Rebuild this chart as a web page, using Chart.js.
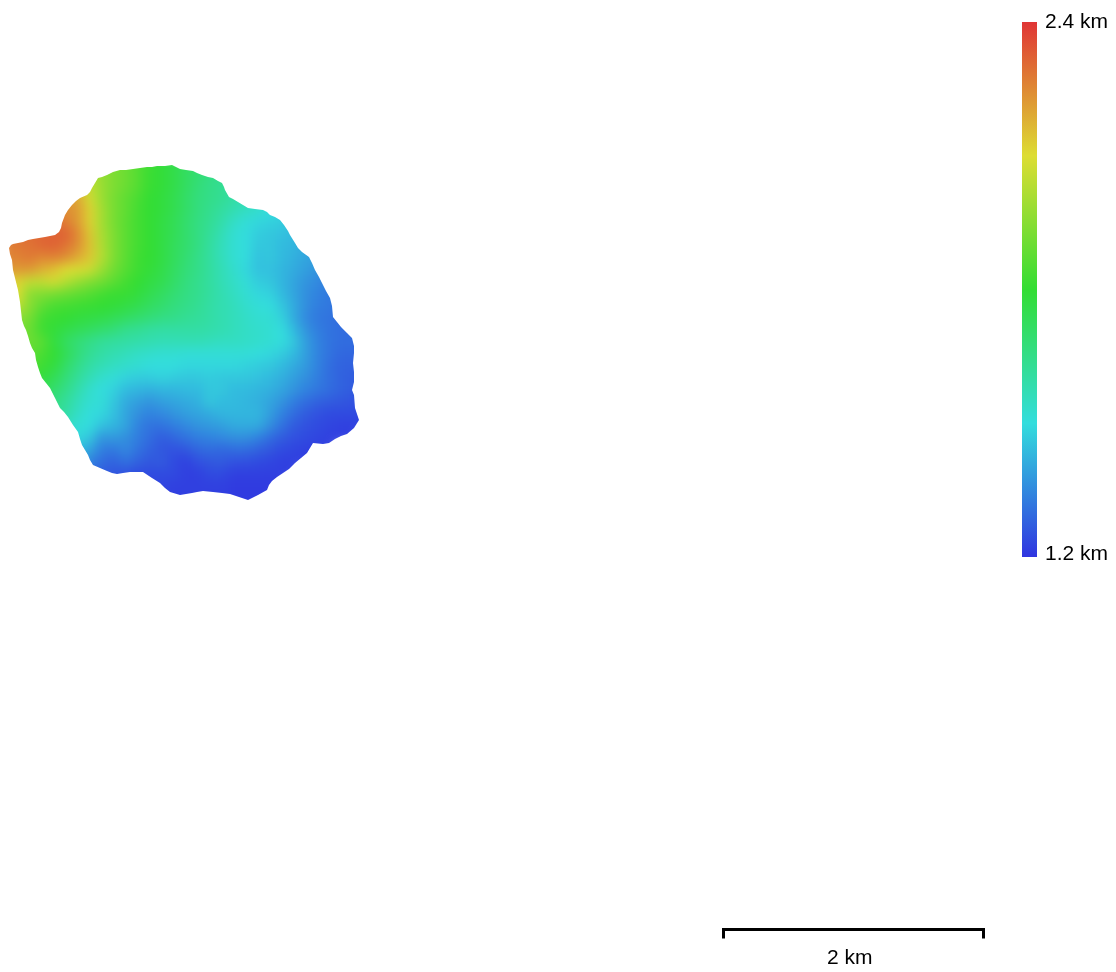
<!DOCTYPE html>
<html>
<head>
<meta charset="utf-8">
<style>
  html, body { margin: 0; padding: 0; background: #fff; }
  body { position: relative; width: 1116px; height: 972px; overflow: hidden; }
  canvas { position: absolute; display: block; }
  #terrain { left: 0; top: 0; }
  #colorbar { left: 1016px; top: 0; }
  #scalebar { left: 713px; top: 920px; }
</style>
<script src="https://cdn.jsdelivr.net/npm/chart.js@4"></script>
</head>
<body>
<canvas id="terrain" width="1116" height="972"></canvas>
<canvas id="colorbar" width="100" height="580"></canvas>
<canvas id="scalebar" width="280" height="50"></canvas>
<script>
const _ = null;

// elevation, in units of 10 m, one list per grid row (12 map units apart)
const gridEast = [6,18,30,42,54,66,78,90,102,114,126,138,150,162,174,186,198,210,222,234,246,258,270,282,294,306,318,330,342,354,366];
const gridSouth = [162,174,186,198,210,222,234,246,258,270,282,294,306,318,330,342,354,366,378,390,402,414,426,438,450,462,474,486,498,510];
const row162 = [_,_,_,_,_,_,205,200,196,193,190,186,182,179,176,172,169,166,164,162,_,_,_,_,_,_,_,_,_,_,_];
const row174 = [_,_,_,_,_,216,210,204,197,193,190,186,181,179,176,172,169,166,164,162,160,158,_,_,_,_,_,_,_,_,_];
const row186 = [_,_,_,_,222,220,214,205,198,193,190,186,181,179,176,172,168,165,163,161,159,157,155,_,_,_,_,_,_,_,_];
const row198 = [_,_,_,226,224,222,220,208,198,192,188,184,180,178,175,171,167,165,163,160,158,155,153,150,_,_,_,_,_,_,_];
const row210 = [_,232,232,230,226,224,222,212,200,192,188,183,180,178,175,171,167,164,161,158,155,153,150,148,146,_,_,_,_,_,_];
const row222 = [232,232,232,232,230,227,222,212,200,192,187,183,180,177,174,170,166,163,159,154,151,149,148,147,146,145,_,_,_,_,_];
const row234 = [229,229,230,231,232,232,225,214,201,193,187,183,180,177,174,170,166,162,157,152,150,147,146,145,144,142,140,_,_,_,_];
const row246 = [226,228,229,231,232,229,224,215,202,193,187,183,180,177,173,170,166,161,156,152,150,146,146,144,143,141,139,137,_,_,_];
const row258 = [226,226,228,225,226,224,219,214,203,193,187,182,180,177,173,169,165,161,156,152,150,145,146,144,142,140,139,137,_,_,_];
const row270 = [222,222,222,218,215,210,209,207,198,191,186,182,179,176,172,168,165,161,157,153,149,145,145,143,141,139,137,135,133,_,_];
const row282 = [212,212,205,205,208,203,198,194,191,187,183,180,177,175,171,167,164,161,157,154,151,147,146,143,140,137,135,133,132,130,_];
const row294 = [210,210,195,194,192,190,188,186,183,181,181,178,175,172,169,166,164,161,158,155,152,149,148,144,140,136,134,132,131,130,_];
const row306 = [205,205,195,188,184,183,182,181,180,179,177,175,172,170,167,165,163,160,158,156,153,151,150,146,141,136,133,132,131,130,130];
const row318 = [_,195,192,183,181,180,178,177,176,174,172,170,168,166,165,163,162,160,158,156,154,152,152,148,141,135,132,131,130,130,130];
const row330 = [_,192,190,182,179,176,174,172,170,168,164,163,161,160,160,160,160,159,158,156,154,153,152,150,144,137,133,131,130,130,130];
const row342 = [_,192,190,187,178,172,168,165,162,161,160,159,158,157,157,157,157,156,155,155,154,153,152,150,146,139,134,131,130,130,129];
const row354 = [_,190,188,184,180,174,168,163,160,158,156,154,153,152,152,151,151,151,151,151,151,150,149,147,144,139,134,131,129,129,128];
const row366 = [_,_,186,182,178,171,165,160,157,155,153,152,150,150,150,149,149,149,149,149,148,147,146,144,141,138,134,130,128,128,127];
const row378 = [_,_,182,178,174,168,162,157,153,151,148,147,147,148,147,146,146,147,146,146,146,145,144,142,139,136,133,130,128,127,127];
const row390 = [_,_,_,174,170,165,159,153,150,148,144,143,142,143,143,144,144,146,146,144,144,143,142,140,137,134,132,130,128,127,126];
const row402 = [_,_,_,170,166,162,156,152,151,146,141,139,137,139,140,141,142,146,144,144,143,142,140,137,133,130,128,127,126,125,125];
const row414 = [_,_,_,_,164,160,154,150,149,145,140,136,134,135,137,139,140,141,143,143,143,143,139,134,130,127,125,124,124,124,124];
const row426 = [_,_,_,_,158,155,151,150,145,143,140,134,131,131,133,135,137,138,139,141,141,141,136,131,127,125,124,123,122,122,122];
const row438 = [_,_,_,_,_,152,149,146,137,138,136,133,130,127,129,131,133,134,135,136,136,134,130,127,125,124,123,122,122,122,_];
const row450 = [_,_,_,_,_,148,144,140,133,132,135,131,128,126,125,126,129,130,129,130,130,128,126,124,123,122,122,122,_,_,_];
const row462 = [_,_,_,_,_,_,140,134,130,128,131,128,126,127,124,122,125,126,127,125,125,124,123,122,122,122,122,_,_,_,_];
const row474 = [_,_,_,_,_,_,_,130,127,126,125,124,124,124,124,122,122,124,124,122,122,122,122,122,122,_,_,_,_,_,_];
const row486 = [_,_,_,_,_,_,_,_,125,124,124,123,123,123,122,122,122,122,122,121,121,121,121,121,_,_,_,_,_,_,_];
const row498 = [_,_,_,_,_,_,_,_,_,_,123,123,123,122,122,122,122,122,122,121,121,121,121,_,_,_,_,_,_,_,_];
const row510 = [_,_,_,_,_,_,_,_,_,_,_,_,123,122,122,122,122,122,122,121,121,121,_,_,_,_,_,_,_,_,_];
const elevationRows = [row162,row174,row186,row198,row210,row222,row234,row246,row258,row270,row282,row294,row306,row318,row330,row342,row354,row366,row378,row390,row402,row414,row426,row438,row450,row462,row474,row486,row498,row510];

// survey boundary, clockwise from the west tip
const boundaryEast = [9,11,13,18,23,28,33,39,45,50,55,59,61,62,65,68,72,76,80,87,90,92,95,98,102,107,113,120,126,133,140,147,152,157,165,172,176,180,186,193,197,202,208,213,218,222,224,225,229,233,238,243,248,255,263,267,270,275,280,284,288,290,295,298,302,309,312,315,319,322,326,330,332,333,337,341,347,352,354,354,353,354,354,352,354,355,359,354,347,341,335,329,323,313,310,307,301,295,289,283,277,272,269,267,258,248,242,236,230,222,213,203,197,192,186,180,170,165,160,152,143,136,130,123,117,112,107,100,93,90,88,85,82,80,78,73,68,64,60,55,50,46,42,40,38,36,35,32,30,28,26,24,22,21,20,18,15,13,12,10];
const boundarySouth = [248,245,244,243,242,240,239,238,237,236,235,232,228,223,215,210,205,201,198,195,192,188,183,178,177,175,172,170,170,169,168,167,167,166,166,165,167,169,170,171,173,175,177,178,181,183,187,190,197,199,202,205,208,209,210,212,215,217,220,225,231,235,243,248,252,257,263,270,277,283,291,298,306,317,322,327,333,338,346,353,363,372,382,390,395,408,420,428,434,436,439,443,444,443,448,453,458,463,469,473,477,481,485,490,495,500,498,496,494,493,492,491,492,493,494,495,492,488,483,478,472,472,472,473,474,473,471,468,465,460,455,450,445,439,432,425,417,412,408,398,388,383,378,373,367,360,353,348,343,336,330,326,320,311,302,290,278,270,260,254];

// color ramp of the map, low to high
const rampStops = [0, 0.25, 0.5, 0.75, 1];
const rampColors = ['#3035e0', '#33dddd', '#33dd33', '#dddd33', '#e03535'];

const colorbarRange = [1.2, 2.4];
const colorbarTicks = [1.206, 2.4];
const scaleRange = [0, 2];
const scaleTicks = [0, 0.973, 2];
const scaleLabel = '2 km';

const labelFont = { family: '"Liberation Sans", Arial, sans-serif', size: 21 };

function rampColor(elevation) {
  const t = (elevation / 100 - colorbarRange[0]) / (colorbarRange[1] - colorbarRange[0]);
  const c = Math.max(0, Math.min(1, t));
  let i = 0;
  while (i < rampStops.length - 2 && c > rampStops[i + 1]) i++;
  const f = (c - rampStops[i]) / (rampStops[i + 1] - rampStops[i]);
  const a = parseInt(rampColors[i].slice(1), 16), b = parseInt(rampColors[i + 1].slice(1), 16);
  const mix = (s) => Math.round(((a >> s) & 255) * (1 - f) + ((b >> s) & 255) * f);
  return 'rgb(' + mix(16) + ',' + mix(8) + ',' + mix(0) + ')';
}

const cells = [];
elevationRows.forEach((row, j) => {
  row.forEach((v, i) => {
    if (v !== null) cells.push({ x: gridEast[i], y: gridSouth[j], v: v });
  });
});
const boundary = boundaryEast.map((x, i) => ({ x: x, y: boundarySouth[i] }));

// soften the grid cells and cut them to the boundary
const terrainSmooth = {
  id: 'terrainSmooth',
  afterDatasetsDraw(chart) {
    const ctx = chart.ctx;
    const canvas = chart.canvas;
    const copy = document.createElement('canvas');
    copy.width = canvas.width;
    copy.height = canvas.height;
    copy.getContext('2d').drawImage(canvas, 0, 0);
    const pts = chart.getDatasetMeta(1).data;
    ctx.clearRect(0, 0, canvas.width, canvas.height);
    ctx.save();
    ctx.beginPath();
    pts.forEach((p, i) => (i ? ctx.lineTo(p.x, p.y) : ctx.moveTo(p.x, p.y)));
    ctx.closePath();
    ctx.clip();
    ctx.filter = 'blur(6px)';
    ctx.drawImage(copy, 0, 0);
    ctx.restore();
  },
};

new Chart(document.getElementById('terrain'), {
  type: 'scatter',
  data: {
    datasets: [
      {
        label: 'elevation',
        data: cells,
        pointStyle: 'rect',
        pointRadius: 9,
        pointBorderWidth: 0,
        pointBackgroundColor: (ctx) => rampColor(ctx.raw.v),
      },
      {
        label: 'boundary',
        data: boundary,
        pointRadius: 0,
        showLine: false,
      },
    ],
  },
  options: {
    responsive: false,
    animation: false,
    devicePixelRatio: 1,
    layout: { padding: 0, autoPadding: false },
    plugins: { legend: { display: false }, tooltip: { enabled: false } },
    scales: {
      x: { type: 'linear', display: false, min: 0, max: 1116 },
      y: { type: 'linear', display: false, min: 0, max: 972, reverse: true },
    },
  },
  plugins: [terrainSmooth],
});

new Chart(document.getElementById('colorbar'), {
  type: 'bar',
  data: {
    labels: ['elevation'],
    datasets: [
      {
        data: [colorbarRange],
        barPercentage: 1,
        categoryPercentage: 1,
        borderWidth: 0,
        backgroundColor: (ctx) => {
          const area = ctx.chart.chartArea;
          if (!area) return rampColors[0];
          const g = ctx.chart.ctx.createLinearGradient(0, area.bottom, 0, area.top);
          rampStops.forEach((s, i) => g.addColorStop(s, rampColors[i]));
          return g;
        },
      },
    ],
  },
  options: {
    responsive: false,
    animation: false,
    devicePixelRatio: 1,
    layout: { padding: { left: 6, top: 22, bottom: 23 } },
    plugins: { legend: { display: false }, tooltip: { enabled: false } },
    scales: {
      x: { display: false },
      y: {
        position: 'right',
        min: colorbarRange[0],
        max: colorbarRange[1],
        grid: { display: false, drawTicks: false },
        border: { display: false },
        afterBuildTicks: (scale) => {
          scale.ticks = colorbarTicks.map((v) => ({ value: v }));
        },
        afterFit: (scale) => {
          scale.width = 79;
        },
        ticks: {
          padding: 8,
          color: '#000',
          font: labelFont,
          callback: (v) => v.toFixed(1) + ' km',
        },
      },
    },
  },
});

new Chart(document.getElementById('scalebar'), {
  type: 'scatter',
  data: { datasets: [{ data: [] }] },
  options: {
    responsive: false,
    animation: false,
    devicePixelRatio: 1,
    layout: { padding: { left: 10.5, right: 10 } },
    plugins: { legend: { display: false }, tooltip: { enabled: false } },
    scales: {
      y: { display: false },
      x: {
        type: 'linear',
        min: scaleRange[0],
        max: scaleRange[1],
        afterBuildTicks: (scale) => {
          scale.ticks = scaleTicks.map((v) => ({ value: v }));
        },
        afterFit: (scale) => {
          scale.height = 40.5;
        },
        border: { display: true, color: '#000', width: 3 },
        grid: {
          drawOnChartArea: false,
          lineWidth: 3,
          tickLength: 9,
          tickColor: (ctx) => (ctx.tick && ctx.tick.label ? 'rgba(0,0,0,0)' : '#000'),
        },
        ticks: {
          autoSkip: false,
          maxRotation: 0,
          padding: 7,
          color: '#000',
          font: labelFont,
          callback: (v) => (v > scaleRange[0] && v < scaleRange[1] ? scaleLabel : ''),
        },
      },
    },
  },
});
</script>
</body>
</html>
